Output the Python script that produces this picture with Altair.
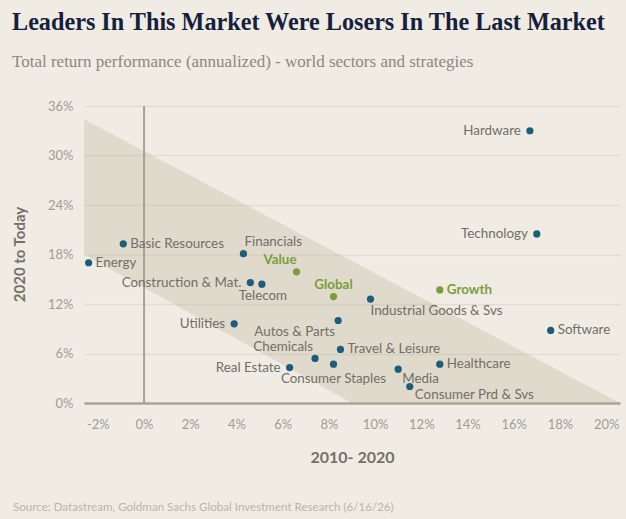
import altair as alt
import pandas as pd

names = ["Energy", "Basic Resources", "Financials", "Value", "Construction & Mat.", "Telecom",
         "Global", "Utilities", "Autos & Parts", "Chemicals", "Real Estate", "Consumer Staples",
         "Travel & Leisure", "Industrial Goods & Svs", "Growth", "Media", "Consumer Prd & Svs",
         "Healthcare", "Hardware", "Technology", "Software"]
ret_2010_2020 = [-2.4, -0.9, 4.3, 6.6, 4.6, 5.1, 8.2, 3.9, 8.4, 7.4, 6.3, 8.2,
                 8.5, 9.8, 12.8, 11.0, 11.5, 12.8, 16.7, 17.0, 17.6]
ret_2020_today = [17.0, 19.3, 18.1, 15.9, 14.6, 14.4, 12.9, 9.6, 10.0, 5.4, 4.3, 4.7,
                  6.5, 12.6, 13.7, 4.1, 2.0, 4.7, 33.0, 20.5, 8.8]
strategies = ["Value", "Global", "Growth"]

band_x = [-2.6, 9.0, 20.6]
band_low = [18.0, 0.0, 0.0]
band_high = [34.4, 17.2, 0.0]

x_ticks = [-2, 0, 2, 4, 6, 8, 10, 12, 14, 16, 18, 20]
y_ticks = [0, 6, 12, 18, 24, 30, 36]

title = "Leaders In This Market Were Losers In The Last Market"
subtitle = "Total return performance (annualized) - world sectors and strategies"
source = "Source: Datastream, Goldman Sachs Global Investment Research (6/16/26)"

df = pd.DataFrame({"name": names, "x": ret_2010_2020, "y": ret_2020_today})
df["kind"] = ["Strategy" if n in strategies else "Sector" for n in names]
band = pd.DataFrame({"x": band_x, "lo": band_low, "hi": band_high})

BG = "#f0ece4"
BLUE = "#1c5d7c"
GREEN = "#7a9e3c"
GRAY = "#716e67"

xs = alt.Scale(domain=[-2.6, 20.6], nice=False, zero=False)
ys = alt.Scale(domain=[0, 36], nice=False)

x_axis = alt.Axis(values=x_ticks, labelExpr="datum.value + '%'", grid=False, ticks=False,
                  domain=True, domainColor="#aaa592", domainWidth=2.5,
                  labelPadding=15, labelFontSize=13, labelColor="#a09c92", labelFont="Lato",
                  titleFont="Lato", titleFontSize=16, titleFontWeight="bold", titleColor="#747068",
                  titleY=54, titleBaseline="middle")
y_axis = alt.Axis(values=y_ticks, labelExpr="datum.value + '%'", grid=True, gridColor="#e2ddd1",
                  gridWidth=1.5, ticks=False, domain=False, labelPadding=11, labelFontSize=13,
                  labelColor="#a09c92", labelFont="Lato", titleFont="Lato", titleFontSize=15,
                  titleFontWeight="bold", titleColor="#747068", titleX=-65, titleY=148,
                  titleAngle=-90, titleAlign="center", titleBaseline="middle")


def X(field):
    return alt.X(field, scale=xs, axis=x_axis, title="2010- 2020")


def Y(field):
    return alt.Y(field, scale=ys, axis=y_axis, title="2020 to Today")


band_layer = alt.Chart(band).mark_area(color="#b0a58c", opacity=0.26).encode(
    x=X("x:Q"), y=Y("lo:Q"), y2="hi:Q")

base = alt.Chart(df)

zero_rule = alt.Chart(pd.DataFrame({"x": [0]})).mark_rule(color="#a8a290", strokeWidth=2).encode(
    x=X("x:Q"), y=alt.value(0), y2=alt.value(297))

points = base.mark_circle(size=52, opacity=1).encode(
    x=X("x:Q"), y=Y("y:Q"),
    color=alt.Color("kind:N", scale=alt.Scale(domain=["Sector", "Strategy"], range=[BLUE, GREEN]),
                    legend=None))

placements = [
    (["Energy", "Basic Resources", "Travel & Leisure", "Healthcare", "Software"], "left", 7, 0, False),
    (["Growth"], "left", 7, 0, True),
    (["Construction & Mat.", "Utilities", "Real Estate", "Hardware", "Technology"], "right", -9, 0, False),
    (["Financials"], "left", 1, -12, False),
    (["Value"], "right", 0, -12, True),
    (["Global"], "center", 0, -12, True),
    (["Telecom"], "center", 1, 12, False),
    (["Consumer Staples"], "center", 0, 15, False),
    (["Autos & Parts"], "right", -3, 11, False),
    (["Chemicals"], "right", -2, -11, False),
    (["Industrial Goods & Svs"], "left", 0, 12, False),
    (["Media"], "left", 4, 10, False),
    (["Consumer Prd & Svs"], "left", 5, 8, False),
]

label_layers = []
for group, align, dx, dy, strat in placements:
    label_layers.append(
        base.transform_filter(alt.FieldOneOfPredicate(field="name", oneOf=group))
        .mark_text(align=align, baseline="middle", dx=dx, dy=dy, font="Lato",
                   fontSize=13.4, fontWeight="bold" if strat else "normal",
                   color=GREEN if strat else GRAY)
        .encode(x=X("x:Q"), y=Y("y:Q"), text="name:N"))

source_layer = alt.Chart(pd.DataFrame({"t": [source]})).mark_text(
    align="left", baseline="middle", font="Lato", fontSize=11.6, color="#bab4a7").encode(
    text="t:N", x=alt.value(-71), y=alt.value(402))

chart = alt.layer(band_layer, zero_rule, points, *label_layers, source_layer).properties(
    width=536, height=297,
    padding={"left": 84, "top": 106, "right": 6, "bottom": 116},
    autosize=alt.AutoSizeParams(type="none"),
    title=alt.Title(title, subtitle=subtitle, anchor="start", frame="group", dx=-72, offset=30,
                    font="Liberation Serif", fontSize=24.2, fontWeight="bold", color="#14213d",
                    subtitleFont="Liberation Serif", subtitleFontSize=17, subtitleColor="#8c877c",
                    subtitlePadding=19),
).configure(background=BG).configure_view(stroke=None)

chart.save("out.html", embed_options={"renderer": "svg", "actions": False})
